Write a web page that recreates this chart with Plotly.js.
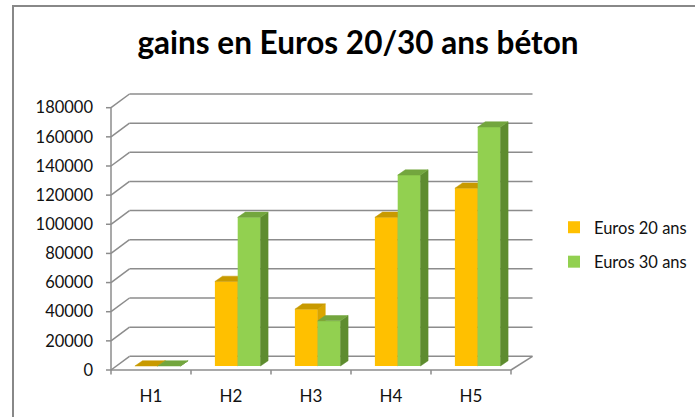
<!DOCTYPE html>
<html>
<head>
<meta charset="utf-8">
<script src="https://cdn.plot.ly/plotly-3.0.1.min.js"></script>
<style>html,body{margin:0;padding:0;background:#fff;}#chart{width:695px;height:417px;}</style>
</head>
<body>
<div id="chart"></div>
<script>
// ---- data ----
const categories = ['H1', 'H2', 'H3', 'H4', 'H5'];
const seriesNames = ['Euros 20 ans', 'Euros 30 ans'];
const euros20 = [0, 58000, 39000, 102000, 122000];
const euros30 = [0, 102000, 31000, 131000, 164000];
const yTickVals = [0, 20000, 40000, 60000, 80000, 100000, 120000, 140000, 160000, 180000];
const yTickText = ['0', '20000', '40000', '60000', '80000', '100000', '120000', '140000', '160000', '180000'];
const titleText = 'gains en Euros 20/30 ans béton';

// ---- geometry (pixels) ----
const W = 695, H = 417;
const PL = 104, PR = 540, PT = 84, PB = 378;       // plot area box
const FX0 = 111, FY0 = 370;                         // front-left corner of floor
const CAT = 80;                                     // px per category
const U = 180000 / 262.3;                           // value units per px
const DXL = 18.5, DXR = 21.5, DYB = 13.7;           // wall depth offsets
const DXF = 6.7, DYF = 4;                           // bar front face depth offset
const BW = 22.8;                                    // bar front width
const DDX = 7.6, DDY = 5.3;                         // bar depth

const xr = [-0.5 - (FX0 - PL) / CAT, -0.5 + (PR - FX0) / CAT];
const yr = [-(PB - FY0) * U, (FY0 - PT) * U];
const n = categories.length;
const xLeft = -0.5, xRight = n - 0.5;
const gridCol = '#8c8c8c';

const colors = [
  {front: '#FFC000', top: '#C89A00', side: '#D9A500'},
  {front: '#92D050', top: '#73A63E', side: '#5E8C2F'}
];

const shapes = [];
function seg(x0, y0, x1, y1, w) {
  shapes.push({type: 'line', xref: 'x', yref: 'y', x0: x0, y0: y0, x1: x1, y1: y1,
    line: {color: gridCol, width: w || 1.5}, layer: 'below'});
}
// side wall diagonals + back wall gridlines
yTickVals.forEach(v => {
  seg(xLeft, v, xLeft + DXL / CAT, v + DYB * U);
  seg(xLeft + DXL / CAT, v + DYB * U, xRight + DXR / CAT, v + DYB * U);
  seg(xLeft - 5 / CAT, v, xLeft, v);   // y tick mark
});
// front axis line & floor
seg(xLeft, 0, xLeft, yTickVals[yTickVals.length - 1]);
seg(xLeft, 0, xRight, 0);
seg(xRight, 0, xRight + DXR / CAT, DYB * U);
for (let i = 0; i <= n; i++) seg(i - 0.5, 0, i - 0.5, -4.5 * U);
// chart border
shapes.push({type: 'rect', xref: 'paper', yref: 'paper',
  x0: (13 - PL) / (PR - PL), x1: (W + 10 - PL) / (PR - PL),
  y0: (PB - (H + 10)) / (PB - PT), y1: (PB - 6) / (PB - PT),
  line: {color: '#888888', width: 2}, layer: 'below'});

const traces = [];
[euros20, euros30].forEach((vals, s) => {
  const xa = s === 0 ? 'x' : 'x2', ya = s === 0 ? 'y' : 'y2';
  const offPx = s === 0 ? DXF - BW : DXF;          // left edge of front face relative to category centre
  const base = DYF * U;
  traces.push({
    type: 'bar', name: seriesNames[s], x: categories.map((c, i) => i), y: vals,
    base: vals.map(() => base), offset: offPx / CAT, width: BW / CAT,
    marker: {color: colors[s].front, line: {width: 0}},
    xaxis: xa, yaxis: ya, hoverinfo: 'skip', showlegend: true,
    legendgroup: 'g' + s
  });
  const tx = [], ty = [], sx = [], sy = [];
  vals.forEach((v, i) => {
    const l = i + offPx / CAT, r = l + BW / CAT, dx = DDX / CAT, dy = DDY * U;
    const top = base + v;
    tx.push(l, l + dx, r + dx, r, l, null);
    ty.push(top, top + dy, top + dy, top, top, null);
    sx.push(r, r + dx, r + dx, r, r, null);
    sy.push(base, base + dy, top + dy, top, base, null);
  });
  traces.push({type: 'scatter', mode: 'lines', x: sx, y: sy, fill: 'toself', fillcolor: colors[s].side,
    line: {color: colors[s].side, width: 0.5}, xaxis: xa, yaxis: ya, showlegend: false, hoverinfo: 'skip'});
  traces.push({type: 'scatter', mode: 'lines', x: tx, y: ty, fill: 'toself', fillcolor: colors[s].top,
    line: {color: colors[s].top, width: 0.5}, xaxis: xa, yaxis: ya, showlegend: false, hoverinfo: 'skip'});
});

const font = 'Lato, "Open Sans", sans-serif';
const layout = {
  width: W, height: H,
  margin: {l: PL, r: W - PR, t: PT, b: H - PB, pad: 0},
  paper_bgcolor: '#ffffff', plot_bgcolor: 'rgba(0,0,0,0)',
  font: {family: font, size: 16, color: '#111111'},
  title: {text: '<b>' + titleText + '</b>', font: {family: font, size: 31.5, color: '#000000'},
    x: 358 / W, xanchor: 'center', xref: 'container', y: 1 - 43 / H, yanchor: 'middle', yref: 'container'},
  barmode: 'overlay',
  showlegend: true,
  legend: {xref: 'container', yref: 'container', x: 554 / W, y: 1 - 210 / H, xanchor: 'left', yanchor: 'top',
    font: {family: font, size: 16.5, color: '#111111'}, traceorder: 'grouped', tracegroupgap: 10,
    bgcolor: 'rgba(0,0,0,0)'},
  xaxis: {range: xr, tickvals: categories.map((c, i) => i), ticktext: categories, ticks: '',
    tickfont: {size: 17}, showgrid: false, zeroline: false, showline: false, ticklabelstandoff: 6, fixedrange: true},
  yaxis: {range: yr, tickvals: yTickVals, ticktext: yTickText, ticks: '', showgrid: false,
    tickfont: {size: 16.5}, zeroline: false, showline: false, ticklabelstandoff: 10, fixedrange: true},
  xaxis2: {range: xr, overlaying: 'x', visible: false, fixedrange: true},
  yaxis2: {range: yr, overlaying: 'y', visible: false, fixedrange: true},
  shapes: shapes
};
Plotly.newPlot('chart', traces, layout, {displayModeBar: false, staticPlot: true});
</script>
</body>
</html>
